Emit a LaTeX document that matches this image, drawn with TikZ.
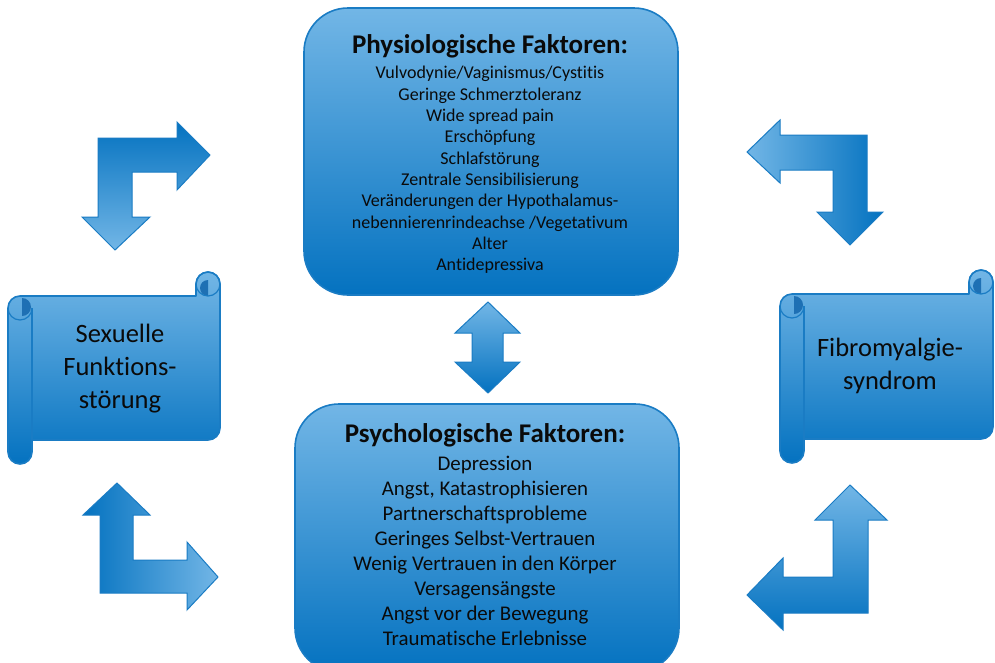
\documentclass[tikz,border=0pt]{standalone}
\usepackage{fontspec}
\setmainfont{Carlito}[Ligatures=NoCommon]
\definecolor{blight}{RGB}{114,182,230}
\definecolor{bdark}{RGB}{4,114,192}
\definecolor{bedge}{RGB}{26,124,196}
\definecolor{curl}{RGB}{30,112,180}
\definecolor{txt}{RGB}{10,10,10}
\tikzset{
  boxshape/.style={draw=bedge, line width=1.6pt, rounded corners=44pt, top color=blight, bottom color=bdark},
  arrowshape/.style={draw=bedge, line width=1pt, line join=miter},
  scrollfill/.style={draw=bedge, line width=1.6pt, top color=blight, bottom color=bdark, line join=round},
  scrollline/.style={draw=bedge, line width=1.2pt},
  titletext/.style={font=\fontsize{27}{30}\selectfont\bfseries, text=txt, inner sep=0pt},
  smalllist/.style={font=\fontsize{18}{21.3}\selectfont, align=center, text=txt, inner sep=0pt},
  biglist/.style={font=\fontsize{20.9}{24.9}\selectfont, align=center, text=txt, inner sep=0pt},
  scrolltext/.style={font=\fontsize{26.5}{33}\selectfont, align=center, text=txt, inner sep=0pt}
}
\newcommand\myscroll[4]{%
  \path[scrollfill] (#1,{#2+36}) arc[start angle=180,end angle=270,radius=12]
    -- ({#3-24},{#2+24}) -- ({#3-24},{#2+12}) arc[start angle=180,end angle=360,radius=12]
    -- (#3,{#4-36}) arc[start angle=0,end angle=90,radius=12]
    -- ({#1+24},{#4-24}) -- ({#1+24},{#4-12}) arc[start angle=0,end angle=180,radius=12]
    -- cycle;
  % left roll details
  \fill[curl] ({#1+14},{#2+26}) arc[start angle=270,end angle=450,radius=9] -- cycle;
  \draw[scrollline] ({#1+24},{#2+36}) arc[start angle=0,end angle=180,radius=12];
  \draw[scrollline] ({#1+24},{#2+36}) -- ({#1+24},{#4-24});
  % right roll details
  \fill[curl] ({#3-12},{#2+24}) arc[start angle=90,end angle=270,radius=8] -- ({#3-12},{#2+24}) -- cycle;
  \draw[scrollline] ({#3-12},{#2+12}) circle[radius=12];
}
\begin{document}
\begin{tikzpicture}[x=1pt,y=-1pt]
\useasboundingbox (0,0) rectangle (995,662);
\fill[white] (0,0) rectangle (995,662);

% main boxes
\path[boxshape] (304,8) rectangle (678,295);
\path[boxshape] (295,404) rectangle (679,672);

% scrolls
\myscroll{8}{272}{220}{464}
\myscroll{780}{270}{993}{463}

% bent arrows
\path[arrowshape, top color=bdark, bottom color=blight]
  (98,138) -- (177,138) -- (177,122) -- (210,155) -- (177,190) -- (177,172)
  -- (132,172) -- (132,217) -- (150,217) -- (115,250) -- (82,217) -- (98,217) -- cycle;
\path[arrowshape, left color=bdark, right color=blight]
  (100,593) -- (100,515) -- (83,515) -- (117,483) -- (150,515) -- (133,515)
  -- (133,560) -- (187,560) -- (187,542) -- (218,577) -- (187,610) -- (187,593) -- cycle;
\path[arrowshape, left color=blight, right color=bdark]
  (867,135) -- (867,212) -- (883,212) -- (850,245) -- (817,212) -- (833,212)
  -- (833,170) -- (780,170) -- (780,183) -- (747,152) -- (780,120) -- (780,135) -- cycle;
\path[arrowshape, top color=blight, bottom color=bdark]
  (868,613) -- (868,520) -- (887,520) -- (850,485) -- (815,520) -- (833,520)
  -- (833,577) -- (783,577) -- (783,558) -- (747,595) -- (783,630) -- (783,613) -- cycle;
% double arrow
\path[arrowshape, top color=blight, bottom color=bdark]
  (488,302) -- (520,333) -- (503,333) -- (503,362) -- (520,362) -- (488,393)
  -- (455,362) -- (472,362) -- (472,333) -- (455,333) -- cycle;

% texts
\node[titletext] (phystitle) at (490,46) {Physiologische Faktoren:};
\node[smalllist] (physlist) at (490,170) {Vulvodynie/Vaginismus/Cystitis\\Geringe Schmerztoleranz\\Wide spread pain\\Erschöpfung\\Schlafstörung\\Zentrale Sensibilisierung\\Veränderungen der Hypothalamus-\\nebennierenrindeachse /Vegetativum\\Alter\\Antidepressiva};
\node[titletext] (psychtitle) at (485,435) {Psychologische Faktoren:};
\node[biglist] (psychlist) at (485,551) {Depression\\Angst, Katastrophisieren\\Partnerschaftsprobleme\\Geringes Selbst-Vertrauen\\Wenig Vertrauen in den Körper\\Versagensängste\\Angst vor der Bewegung\\Traumatische Erlebnisse};
\node[scrolltext] (sexual) at (120,369) {Sexuelle\\Funktions-\\störung};
\node[scrolltext] (fibro) at (890,366) {Fibromyalgie-\\syndrom};
\end{tikzpicture}
\end{document}
